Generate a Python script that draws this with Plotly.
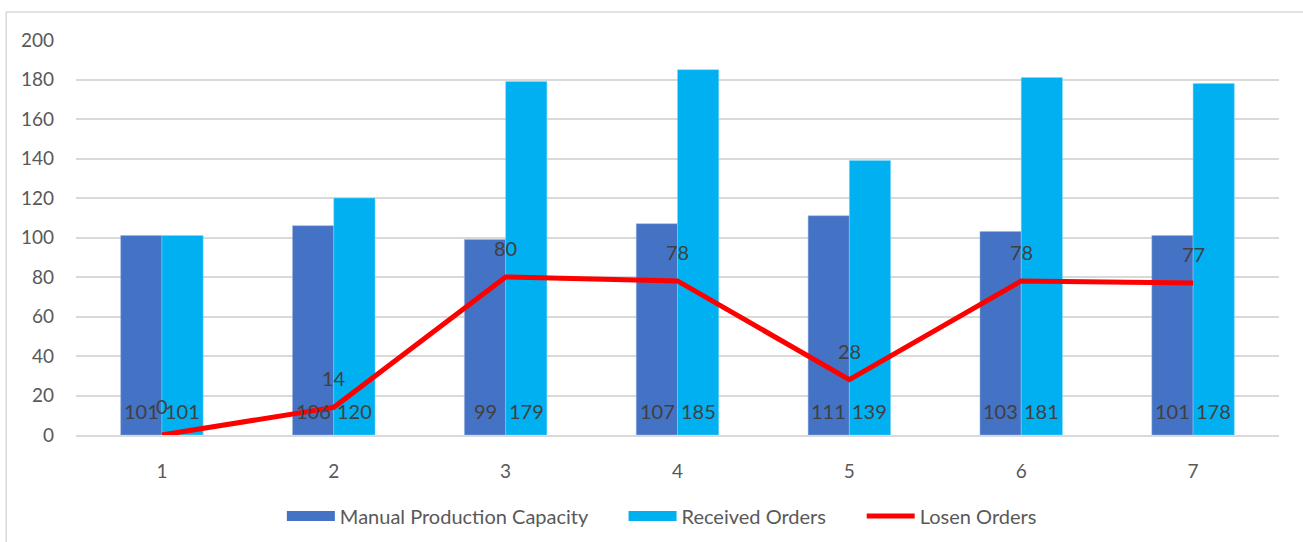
import plotly.graph_objects as go

categories = [1, 2, 3, 4, 5, 6, 7]
manual_capacity = [101, 106, 99, 107, 111, 103, 101]
received_orders = [101, 120, 179, 185, 139, 181, 178]
losen_orders = [0, 14, 80, 78, 28, 78, 77]
y_ticks = [0, 20, 40, 60, 80, 100, 120, 140, 160, 180, 200]

FONT = "Lato"
TEXT_GRAY = "#595959"
LABEL_GRAY = "#404040"
C_MANUAL = "#4472C4"
C_RECV = "#00B0F0"
C_LOSS = "#FF0000"
GAP = "\u00a0" * 6

fig = go.Figure()
fig.add_trace(go.Bar(
    x=categories, y=manual_capacity, name="Manual Production Capacity",
    marker=dict(color=C_MANUAL, line=dict(color="#9DB3E0", width=0.5)),
    showlegend=False,
))
fig.add_trace(go.Bar(
    x=categories, y=received_orders, name="Received Orders",
    marker=dict(color=C_RECV, line=dict(color="#80D8F8", width=0.5)),
    showlegend=False,
))
fig.add_trace(go.Scatter(
    x=categories, y=losen_orders, name="Losen Orders", mode="lines",
    line=dict(color=C_LOSS, width=5), showlegend=False,
))
# legend entries (Excel-like wide swatches)
for name, color, w in [("Manual Production Capacity" + GAP, C_MANUAL, 14),
                       ("Received Orders" + GAP, C_RECV, 14),
                       ("Losen Orders", C_LOSS, 5)]:
    fig.add_trace(go.Scatter(x=[None], y=[None], mode="lines", name=name,
                             line=dict(color=color, width=w), showlegend=True))

annotations = []
for c, v in zip(categories, losen_orders):
    annotations.append(dict(x=c, y=v, text=str(v), showarrow=False, xref="x", yref="y",
                            yshift=29, font=dict(family=FONT, size=20, color=LABEL_GRAY)))
for c, v in zip(categories, manual_capacity):
    annotations.append(dict(x=c, y=0, text=str(v), showarrow=False, xref="x", yref="y",
                            xshift=-20.5, yshift=24, font=dict(family=FONT, size=20, color=LABEL_GRAY)))
for c, v in zip(categories, received_orders):
    annotations.append(dict(x=c, y=0, text=str(v), showarrow=False, xref="x", yref="y",
                            xshift=20.5, yshift=24, font=dict(family=FONT, size=20, color=LABEL_GRAY)))

fig.update_layout(
    width=1303, height=542,
    margin=dict(l=76, r=24, t=40, b=107, autoexpand=False),
    paper_bgcolor="white", plot_bgcolor="white",
    font=dict(family=FONT, size=19, color=TEXT_GRAY),
    barmode="group", bargap=0.52, bargroupgap=0,
    showlegend=True,
    legend=dict(orientation="h", x=0.487, xanchor="center",
                yref="container", y=1 - 516 / 542, yanchor="middle",
                font=dict(family=FONT, size=20, color=TEXT_GRAY),
                itemwidth=48, traceorder="normal", tracegroupgap=0),
    annotations=annotations,
    shapes=[dict(type="rect", xref="paper", yref="paper",
                 x0=-0.058, x1=1.1, y0=-0.5, y1=1.0709,
                 line=dict(color="#D9D9D9", width=1.5), fillcolor="rgba(0,0,0,0)",
                 layer="below")],
)
fig.update_xaxes(range=[0.5, 7.5], tickvals=categories, ticktext=[str(c) for c in categories],
                 showgrid=False, zeroline=False, showline=True, linecolor="#D9D9D9", linewidth=2,
                 ticks="", ticklabelstandoff=18,
                 tickfont=dict(family=FONT, size=19, color=TEXT_GRAY), fixedrange=True)
fig.update_yaxes(range=[0, 200], tickvals=y_ticks, showgrid=True, gridcolor="#D9D9D9",
                 gridwidth=1.5, zeroline=False, showline=False, ticks="",
                 ticklabelstandoff=21,
                 tickfont=dict(family=FONT, size=19, color=TEXT_GRAY), fixedrange=True)

fig.write_html("out.html", config=dict(displayModeBar=False))
